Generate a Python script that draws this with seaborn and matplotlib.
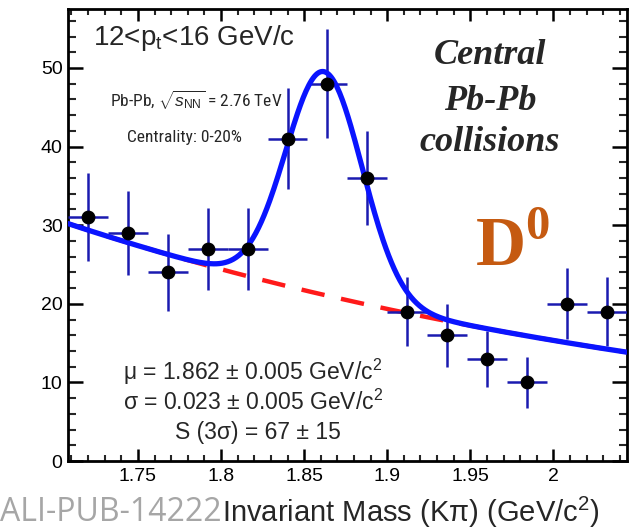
import numpy as np
import pandas as pd
import matplotlib
matplotlib.use("Agg")
import matplotlib.pyplot as plt
import seaborn as sns
from matplotlib.ticker import MultipleLocator
from matplotlib import font_manager

# ---- data ----
mass = [1.720, 1.744, 1.768, 1.792, 1.816, 1.840, 1.864, 1.888,
        1.912, 1.936, 1.960, 1.984, 2.008, 2.032]
counts = [31, 29, 24, 27, 27, 41, 48, 36, 19, 16, 13, 10, 20, 19]
count_err = [5.6, 5.4, 4.9, 5.2, 5.2, 6.4, 6.9, 6.0, 4.4, 4.0, 3.6, 3.2, 4.5, 4.4]
bin_half_width = 0.012

# fit parameters (gaussian signal + exponential background)
fit_mu = 1.862
fit_sigma = 0.023
fit_amp = 28.4
bkg_norm = 30.2      # background value at x = 1.708
bkg_slope = -2.32
x_range = [1.708, 2.044]

x_ticks = [1.75, 1.8, 1.85, 1.9, 1.95, 2.0]
x_tick_labels = ["1.75", "1.8", "1.85", "1.9", "1.95", "2"]
y_ticks = [0, 10, 20, 30, 40, 50]

sns.set_theme(style="ticks")
plt.rcParams['font.family'] = ['Liberation Sans', 'DejaVu Sans']
plt.rcParams['mathtext.fontset'] = 'custom'
plt.rcParams['mathtext.rm'] = 'Liberation Sans'
plt.rcParams['mathtext.it'] = 'Liberation Sans:italic'
plt.rcParams['mathtext.bf'] = 'Liberation Serif:bold'

# pick a condensed sans font if one is installed
narrow_family, narrow_stretch, narrow_size = "Liberation Sans", "normal", 10.5
_fonts = font_manager.fontManager.ttflist
_names = {f.name for f in _fonts}
for cand in ["Liberation Sans Narrow", "Roboto Condensed", "Open Sans Condensed",
             "Noto Sans Condensed", "DejaVu Sans Condensed"]:
    if cand in _names:
        narrow_family, narrow_size = cand, 12.5
        break
else:
    for f in _fonts:
        if f.name == "DejaVu Sans" and str(f.stretch) in ("condensed", "semi-condensed", "575", "600"):
            narrow_family, narrow_stretch, narrow_size = "DejaVu Sans", "condensed", 11
            break

fig = plt.figure(figsize=(6.31, 5.29), dpi=100)
ax = fig.add_axes([0.108, 0.1285, 0.885, 0.8545])

xs = np.linspace(x_range[0], x_range[1], 400)
bkg = bkg_norm * np.exp(bkg_slope * (xs - x_range[0]))
total = bkg + fit_amp * np.exp(-0.5 * ((xs - fit_mu) / fit_sigma) ** 2)
curves = pd.DataFrame({"x": xs, "bkg": bkg, "total": total})

sns.lineplot(data=curves, x="x", y="bkg", ax=ax, color="#ff1a1a", lw=3.2,
             zorder=2)
ax.lines[-1].set_dashes([5.3, 3.8])
ax.errorbar(mass, counts, yerr=count_err, xerr=bin_half_width, fmt="none",
            ecolor="#1a1ab0", elinewidth=1.8, capsize=0, zorder=3)
sns.lineplot(data=curves, x="x", y="total", ax=ax, color="#0a14ff", lw=3.8,
             zorder=4)
pts = pd.DataFrame({"m": mass, "n": counts})
sns.scatterplot(data=pts, x="m", y="n", ax=ax, color="black", s=85,
                edgecolor="black", zorder=5)

ax.set_xlim(*x_range)
ax.set_ylim(0, 57.5)
ax.set_xticks(x_ticks)
ax.set_xticklabels(x_tick_labels)
ax.set_yticks(y_ticks)
ax.xaxis.set_minor_locator(MultipleLocator(0.01))
ax.yaxis.set_minor_locator(MultipleLocator(2))
ax.tick_params(which="major", direction="in", width=1.8,
               top=True, right=True, labelsize=14, colors="black")
ax.tick_params(which="minor", direction="in", width=1.5,
               top=True, right=True)
ax.tick_params(axis="x", which="major", length=8.6, pad=5)
ax.tick_params(axis="x", which="minor", length=4.3)
ax.tick_params(axis="y", which="major", length=11, pad=4)
ax.tick_params(axis="y", which="minor", length=5.5)
for s in ax.spines.values():
    s.set_linewidth(2.0)
    s.set_color("black")
ax.set_xlabel("")
ax.set_ylabel("")

# texts
ax.text(0.045, 0.936, r"12<p$_{\rm t}$<16 GeV/c", transform=ax.transAxes,
        fontsize=20, va="center", ha="left")
ax.text(0.075, 0.80, r"Pb-Pb, $\sqrt{s_{\rm NN}}$ = 2.76 TeV",
        transform=ax.transAxes, fontsize=narrow_size, family=narrow_family,
        fontstretch=narrow_stretch, va="center", ha="left")
ax.text(0.209, 0.715, "Centrality: 0-20%", transform=ax.transAxes,
        fontsize=narrow_size, family=narrow_family, fontstretch=narrow_stretch,
        va="center", ha="center")

for txt, yy in [("Central", 0.898), ("Pb-Pb", 0.795), ("collisions", 0.705)]:
    ax.text(0.755, yy, txt, transform=ax.transAxes, fontsize=26,
            family="Liberation Serif", style="italic", weight="bold",
            ha="center", va="center")
ax.text(0.796, 0.47, r"D$^{\mathbf{0}}$", transform=ax.transAxes, fontsize=50,
        family="Liberation Serif", weight="bold", color="#c55a11",
        ha="center", va="center")

ax.text(0.098, 0.197, r"μ = 1.862 ± 0.005 GeV/c$^{2}$",
        transform=ax.transAxes, fontsize=16.5, ha="left", va="center")
ax.text(0.098, 0.13, r"σ = 0.023 ± 0.005 GeV/c$^{2}$",
        transform=ax.transAxes, fontsize=16.5, ha="left", va="center")
ax.text(0.192, 0.064, "S (3σ) = 67 ± 15",
        transform=ax.transAxes, fontsize=16.5, ha="left", va="center")

fig.text(0.352, 0.032, r"Invariant Mass (Kπ) (GeV/c$^{2}$)",
         fontsize=21, ha="left", va="center")
fig.text(0.0, 0.032, "ALI-PUB-14222", fontsize=23, color="#a6a6a6",
         ha="left", va="center", family="Open Sans")

fig.savefig("out.png", dpi=100)
